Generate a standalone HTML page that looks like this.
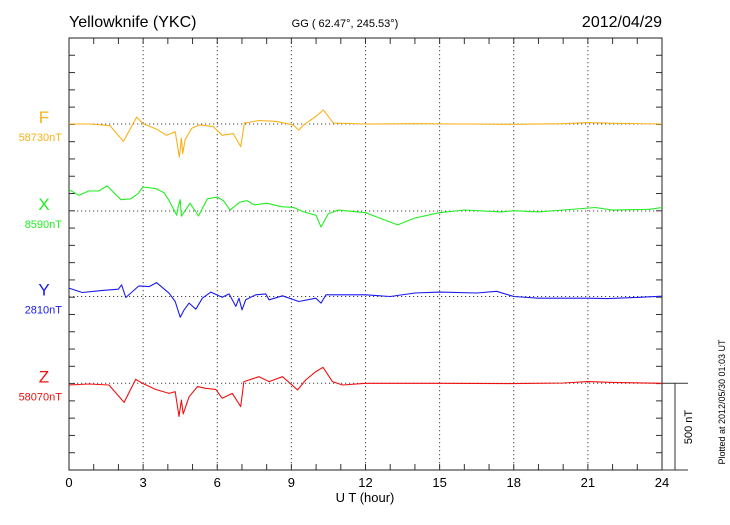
<!DOCTYPE html>
<html><head><meta charset="utf-8"><style>
body{margin:0;background:#fff}
svg text{font-family:"Liberation Sans",sans-serif}
</style></head><body>
<svg id="chart" width="730" height="520" xmlns="http://www.w3.org/2000/svg">
<text x="69" y="27" font-size="16">Yellowknife (YKC)</text>
<text x="345" y="27" font-size="11" text-anchor="middle">GG ( 62.47°, 245.53°)</text>
<text x="662" y="27" font-size="16" text-anchor="end">2012/04/29</text>
<text x="365" y="502" font-size="13" text-anchor="middle">U T (hour)</text>
<text transform="translate(692,427) rotate(-90)" font-size="11" text-anchor="middle">500 nT</text>
<text transform="translate(725,402) rotate(-90)" font-size="9" text-anchor="middle">Plotted at 2012/05/30 01:03 UT</text>
<g id="axes"></g>
<g id="series"></g>
</svg>
<script>
const xTicks=[0,3,6,9,12,15,18,21,24];
const seriesNames=["F","X","Y","Z"];
const seriesBaseLabels=["58730nT","8590nT","2810nT","58070nT"];
const fT=[0,0.85,1.66,2.2,2.74,3.0,3.55,3.95,4.3,4.47,4.55,4.6,4.7,4.97,5.3,5.84,6.2,6.65,6.95,7.1,7.7,8.4,9.07,9.3,9.5,9.96,10.3,10.7,12,14,16,18,20,21,22,24];
const fV=[0,0,-10,-100,40,2,-30,-65,-45,-190,-80,-170,-90,-25,-5,-15,-65,-55,-130,5,20,15,-5,-35,-5,40,80,5,0,2,0,-2,2,8,4,0];
const xT=[0,0.4,0.8,1.2,1.54,2.1,2.5,2.8,2.99,3.5,3.85,4.05,4.36,4.42,4.5,4.55,4.9,5.24,5.6,6.0,6.25,6.52,6.9,7.2,7.5,8.0,8.6,9.1,9.5,10.0,10.2,10.5,10.9,12,13.3,14,15,16,17.5,18,19,20,21.3,22,23.5,24];
const xV=[123,90,115,115,144,65,70,100,138,130,105,60,-25,25,65,-30,45,-29,70,80,60,5,50,60,35,45,25,20,-5,-25,-92,-15,5,-10,-80,-40,-10,6,-5,2,-5,6,20,5,10,20];
const yT=[0,0.54,1.35,2.0,2.13,2.3,2.83,3.24,3.54,4.05,4.3,4.5,4.66,4.86,5.13,5.4,5.74,6.2,6.48,6.75,6.88,7.0,7.15,7.56,7.96,8.1,8.64,9.3,9.99,10.2,10.4,12,13,14,15,16.5,17.3,18,19,20,21,21.8,23,24];
const yV=[48,23,35,42,67,-6,61,57,80,19,-29,-119,-77,-38,-73,-10,25,-4,15,-57,-10,-77,-19,10,15,-19,4,-29,-10,-38,10,10,0,20,25,20,30,0,-10,-10,-10,-12,-5,2];
const zT=[0,0.81,1.62,2.23,2.7,2.97,3.5,4.05,4.3,4.45,4.55,4.62,4.86,5.2,5.53,5.94,6.2,6.61,6.82,6.95,7.08,7.69,8.1,8.64,9.25,9.58,9.99,10.28,10.66,11.07,12,15,18,20,21,22,24];
const zV=[-10,-4,-10,-110,23,0,-35,-58,-48,-190,-96,-176,-77,-19,-29,-35,-86,-58,-105,-134,10,38,10,38,-38,19,67,92,10,-10,0,0,-2,2,10,5,0];
const seriesT=[fT,xT,yT,zT];
const seriesV=[fV,xV,yV,zV];
const colors=["#f7b21a","#22ee22","#1a1aee","#ee1111"];
const baseY=[124,211,296.5,383.3];
const L=69,R=662,T=38,B=470,ppn=87/500;
const xs=h=>L+(R-L)*h/24;
const ys=(i,v)=>baseY[i]-v*ppn;
const NS="http://www.w3.org/2000/svg";
function mk(tag,attrs,parent){const e=document.createElementNS(NS,tag);for(const k in attrs)e.setAttribute(k,attrs[k]);parent.appendChild(e);return e;}
const ax=document.getElementById('axes');
const ser=document.getElementById('series');
for(const h of xTicks){
  const lab=mk('text',{x:xs(h),y:487,'font-size':13,'text-anchor':'middle'},ax);lab.textContent=h;
  
  
  if(h>0&&h<24){const g=mk('line',{x1:xs(h),x2:xs(h),y1:T,y2:B,stroke:'#444','stroke-dasharray':'1.2,2.8','stroke-width':1},ax);
  
  }
}
for(let h=0;h<=24;h++){
  mk('line',{x1:xs(h),x2:xs(h),y1:T,y2:T+6,stroke:'#333'},ax);
  mk('line',{x1:xs(h),x2:xs(h),y1:B,y2:B-6,stroke:'#333'},ax);
}
for(let k=0;k<=25;k++){const y=T+k*(B-T)/25;
  mk('line',{x1:L,x2:L+6,y1:y,y2:y,stroke:'#333'},ax);
  mk('line',{x1:R,x2:R-6,y1:y,y2:y,stroke:'#333'},ax);}
const frame=mk('rect',{x:L,y:T,width:R-L,height:B-T,fill:'none',stroke:'#222','stroke-width':1},ax);


const sb=mk('path',{d:`M${R} 383.3H688M${R} ${B}H688M675 383.3V${B}`,stroke:'#333',fill:'none'},ax);


for(let i=0;i<4;i++){
  const bl=mk('line',{x1:L,x2:R,y1:baseY[i],y2:baseY[i],stroke:'#444','stroke-dasharray':'1.2,2.8'},ser);
  
  
  const n=mk('text',{x:44,y:baseY[i]-1,'font-size':17,'text-anchor':'middle',fill:colors[i]},ser);n.textContent=seriesNames[i];
  
  
  const b=mk('text',{x:62,y:baseY[i]+17,'font-size':11,'text-anchor':'end',fill:colors[i]},ser);b.textContent=seriesBaseLabels[i];
  
  
  const d=seriesT[i].map((t,j)=>(j?'L':'M')+xs(t).toFixed(1)+' '+ys(i,seriesV[i][j]).toFixed(1)).join('');
  const p=mk('path',{d:d,stroke:colors[i],fill:'none','stroke-width':1.1,'stroke-linejoin':'round'},ser);
  
  
}
</script>
</body></html>
